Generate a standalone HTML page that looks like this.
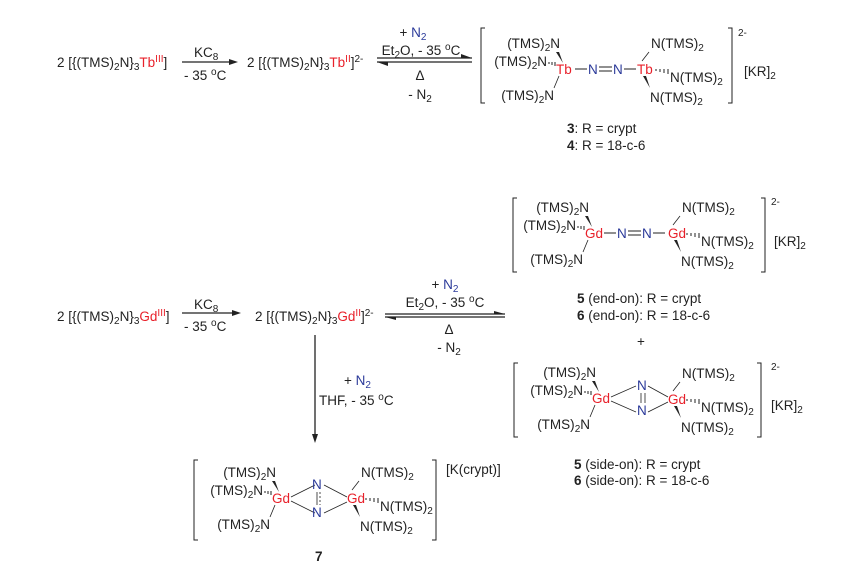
<!DOCTYPE html>
<html><head><meta charset="utf-8"><style>
html,body{margin:0;padding:0;background:#fff;}
svg{display:block;}
text{font-family:"Liberation Sans",sans-serif;font-size:13.5px;fill:#222;}
.r{fill:#e8202a;}
.b{fill:#2b3a9a;}
.s{font-size:10px;}
</style></head><body>
<svg width="848" height="570" viewBox="0 0 848 570" xmlns="http://www.w3.org/2000/svg">
<defs>
<g id="lig">
 <text x="4" y="-26" text-anchor="end">(TMS)<tspan class="s" dy="3">2</tspan><tspan dy="-3">N</tspan></text>
 <polygon points="0,-22 3,-22 7,-11" fill="#222"/>
 <text x="-9" y="-8" text-anchor="end">(TMS)<tspan class="s" dy="3">2</tspan><tspan dy="-3">N</tspan></text>
 <path d="M-7,-10v-2M-4,-9v-3M-1,-8v-4" stroke="#222" stroke-width="1"/>
 <line x1="3" y1="2" x2="-2" y2="14" stroke="#222" stroke-width="0.8"/>
 <text x="-2" y="26" text-anchor="end">(TMS)<tspan class="s" dy="3">2</tspan><tspan dy="-3">N</tspan></text>
</g>
<g id="rlig">
 <line x1="5" y1="-13" x2="12" y2="-22" stroke="#222" stroke-width="0.8"/>
 <text x="14" y="-26">N(TMS)<tspan class="s" dy="3">2</tspan></text>
 <path d="M19,-5v2M23,-5v3M27,-5v4M31,-5v5" stroke="#222" stroke-width="1"/>
 <text x="33" y="8">N(TMS)<tspan class="s" dy="3">2</tspan></text>
 <polygon points="6,2 9,2 13,14" fill="#222"/>
 <text x="13" y="28">N(TMS)<tspan class="s" dy="3">2</tspan></text>
</g>
<g id="endon">
 <line x1="19" y1="-5" x2="31" y2="-5" stroke="#222"/>
 <text x="32" y="0" class="b">N</text>
 <line x1="43" y1="-7" x2="56" y2="-7" stroke="#222"/>
 <line x1="43" y1="-3" x2="56" y2="-3" stroke="#222"/>
 <text x="57" y="0" class="b">N</text>
 <line x1="68" y1="-5" x2="80" y2="-5" stroke="#222"/>
</g>
</defs>

<!-- Top row -->
<text x="57" y="67">2 [{(TMS)<tspan class="s" dy="3">2</tspan><tspan dy="-3">N}</tspan><tspan class="s" dy="3">3</tspan><tspan class="r" dy="-3">Tb</tspan><tspan class="s r" dy="-5">III</tspan><tspan dy="5">]</tspan></text>
<line x1="182" y1="62" x2="232" y2="62" stroke="#222" stroke-width="1.3"/>
<polygon points="238,62 229,59 229,65" fill="#222"/>
<text x="194" y="57">KC<tspan class="s" dy="3">8</tspan></text>
<text x="184" y="80">- 35 <tspan class="s" dy="-5">o</tspan><tspan dy="5">C</tspan></text>
<text x="247" y="67">2 [{(TMS)<tspan class="s" dy="3">2</tspan><tspan dy="-3">N}</tspan><tspan class="s" dy="3">3</tspan><tspan class="r" dy="-3">Tb</tspan><tspan class="s r" dy="-5">II</tspan><tspan dy="5">]</tspan><tspan class="s" dy="-5">2-</tspan></text>
<line x1="377" y1="58" x2="472" y2="58" stroke="#222" stroke-width="1.3"/>
<line x1="377" y1="62" x2="472" y2="62" stroke="#222" stroke-width="1.3"/>
<polygon points="377,62 388,66 388,62" fill="#222"/>
<polygon points="472,58 461,54 461,58" fill="#222"/>
<text x="413" y="37" text-anchor="middle">+ <tspan class="b">N</tspan><tspan class="s b" dy="3">2</tspan></text>
<text x="421" y="55" text-anchor="middle">Et<tspan class="s" dy="3">2</tspan><tspan dy="-3">O, - 35 </tspan><tspan class="s" dy="-5">o</tspan><tspan dy="5">C</tspan></text>
<text x="420" y="80" text-anchor="middle">Δ</text>
<text x="420" y="99" text-anchor="middle">- N<tspan class="s" dy="3">2</tspan></text>

<!-- Tb complex -->
<path d="M485,28h-4v75h4M728,28h4v75h-4" fill="none" stroke="#222" stroke-width="1"/>
<text x="738" y="36" class="s">2-</text>
<g transform="translate(556,74)">
 <use href="#lig"/><text x="0" y="0" class="r">Tb</text>
 <use href="#endon"/>
 <text x="81" y="0" class="r">Tb</text>
 <g transform="translate(81,0)"><use href="#rlig"/></g>
</g>
<text x="744" y="76">[KR]<tspan class="s" dy="3">2</tspan></text>
<text x="567" y="133"><tspan font-weight="bold">3</tspan>:  R = crypt</text>
<text x="567" y="150"><tspan font-weight="bold">4</tspan>:  R = 18-c-6</text>

<!-- Gd end-on -->
<path d="M517,198h-4v74h4M761,198h4v74h-4" fill="none" stroke="#222" stroke-width="1"/>
<text x="771" y="205" class="s">2-</text>
<g transform="translate(585,238)">
 <use href="#lig"/><text x="0" y="0" class="r">Gd</text>
 <use href="#endon"/>
 <text x="83" y="0" class="r">Gd</text>
 <g transform="translate(83,0)"><use href="#rlig"/></g>
</g>
<text x="774" y="246">[KR]<tspan class="s" dy="3">2</tspan></text>
<text x="577" y="303"><tspan font-weight="bold">5</tspan> (end-on):  R = crypt</text>
<text x="577" y="320"><tspan font-weight="bold">6</tspan> (end-on):  R = 18-c-6</text>
<text x="637" y="346">+</text>

<!-- Middle row -->
<text x="57" y="321">2 [{(TMS)<tspan class="s" dy="3">2</tspan><tspan dy="-3">N}</tspan><tspan class="s" dy="3">3</tspan><tspan class="r" dy="-3">Gd</tspan><tspan class="s r" dy="-5">III</tspan><tspan dy="5">]</tspan></text>
<line x1="182" y1="313" x2="235" y2="313" stroke="#222" stroke-width="1.3"/>
<polygon points="241,313 232,310 232,316" fill="#222"/>
<text x="194" y="309">KC<tspan class="s" dy="3">8</tspan></text>
<text x="184" y="331">- 35 <tspan class="s" dy="-5">o</tspan><tspan dy="5">C</tspan></text>
<text x="255" y="321">2 [{(TMS)<tspan class="s" dy="3">2</tspan><tspan dy="-3">N}</tspan><tspan class="s" dy="3">3</tspan><tspan class="r" dy="-3">Gd</tspan><tspan class="s r" dy="-5">II</tspan><tspan dy="5">]</tspan><tspan class="s" dy="-5">2-</tspan></text>
<line x1="385" y1="314" x2="505" y2="314" stroke="#222" stroke-width="1.3"/>
<line x1="385" y1="317" x2="505" y2="317" stroke="#222" stroke-width="1.3"/>
<polygon points="385,317 396,320 396,317" fill="#222"/>
<polygon points="505,314 494,311 494,314" fill="#222"/>
<text x="445" y="289" text-anchor="middle">+ <tspan class="b">N</tspan><tspan class="s b" dy="3">2</tspan></text>
<text x="445" y="307" text-anchor="middle">Et<tspan class="s" dy="3">2</tspan><tspan dy="-3">O, - 35 </tspan><tspan class="s" dy="-5">o</tspan><tspan dy="5">C</tspan></text>
<text x="449" y="334" text-anchor="middle">Δ</text>
<text x="449" y="352" text-anchor="middle">- N<tspan class="s" dy="3">2</tspan></text>
<line x1="315" y1="335" x2="315" y2="436" stroke="#222" stroke-width="1.3"/>
<polygon points="315,443 312,434 318,434" fill="#222"/>
<text x="344" y="385">+ <tspan class="b">N</tspan><tspan class="s b" dy="3">2</tspan></text>
<text x="319" y="405">THF, - 35 <tspan class="s" dy="-5">o</tspan><tspan dy="5">C</tspan></text>

<!-- Gd side-on -->
<path d="M518,363h-4v74h4M757,363h4v74h-4" fill="none" stroke="#222" stroke-width="1"/>
<text x="771" y="370" class="s">2-</text>
<g transform="translate(592,403)">
 <use href="#lig"/><text x="0" y="0" class="r">Gd</text>
 <line x1="19" y1="-6" x2="44" y2="-17" stroke="#222" stroke-width="0.8"/>
 <line x1="19" y1="-2" x2="44" y2="9" stroke="#222" stroke-width="0.8"/>
 <text x="45" y="-13" class="b">N</text>
 <text x="45" y="12" class="b">N</text>
 <line x1="49" y1="-10" x2="49" y2="0" stroke="#222" stroke-width="0.8"/>
 <line x1="53" y1="-10" x2="53" y2="0" stroke="#222" stroke-width="0.8"/>
 <line x1="56" y1="-17" x2="76" y2="-6" stroke="#222" stroke-width="0.8"/>
 <line x1="56" y1="9" x2="76" y2="-1" stroke="#222" stroke-width="0.8"/>
 <text x="76" y="1" class="r">Gd</text>
 <g transform="translate(76,1)"><use href="#rlig"/></g>
</g>
<text x="771" y="410">[KR]<tspan class="s" dy="3">2</tspan></text>
<text x="574" y="469"><tspan font-weight="bold">5</tspan> (side-on):  R = crypt</text>
<text x="574" y="485"><tspan font-weight="bold">6</tspan> (side-on):  R = 18-c-6</text>

<!-- 7 -->
<path d="M198,460h-4v80h4M432,460h4v80h-4" fill="none" stroke="#222" stroke-width="1"/>
<text x="446" y="474">[K(crypt)]</text>
<g transform="translate(272,503)">
 <use href="#lig"/><text x="0" y="0" class="r">Gd</text>
 <line x1="19" y1="-6" x2="43" y2="-18" stroke="#222" stroke-width="0.8"/>
 <line x1="19" y1="-2" x2="43" y2="10" stroke="#222" stroke-width="0.8"/>
 <text x="40" y="-14" class="b">N</text>
 <text x="40" y="14" class="b">N</text>
 <line x1="45" y1="-11" x2="45" y2="2" stroke="#222" stroke-width="0.8"/>
 <line x1="48" y1="-11" x2="48" y2="2" stroke="#222" stroke-width="0.8" stroke-dasharray="2,2"/>
 <line x1="52" y1="-18" x2="75" y2="-6" stroke="#222" stroke-width="0.8"/>
 <line x1="52" y1="10" x2="75" y2="-1" stroke="#222" stroke-width="0.8"/>
 <text x="75" y="0" class="r">Gd</text>
 <g transform="translate(75,0)"><use href="#rlig"/></g>
</g>
<text x="315" y="561" font-weight="bold">7</text>
</svg>
</body></html>
